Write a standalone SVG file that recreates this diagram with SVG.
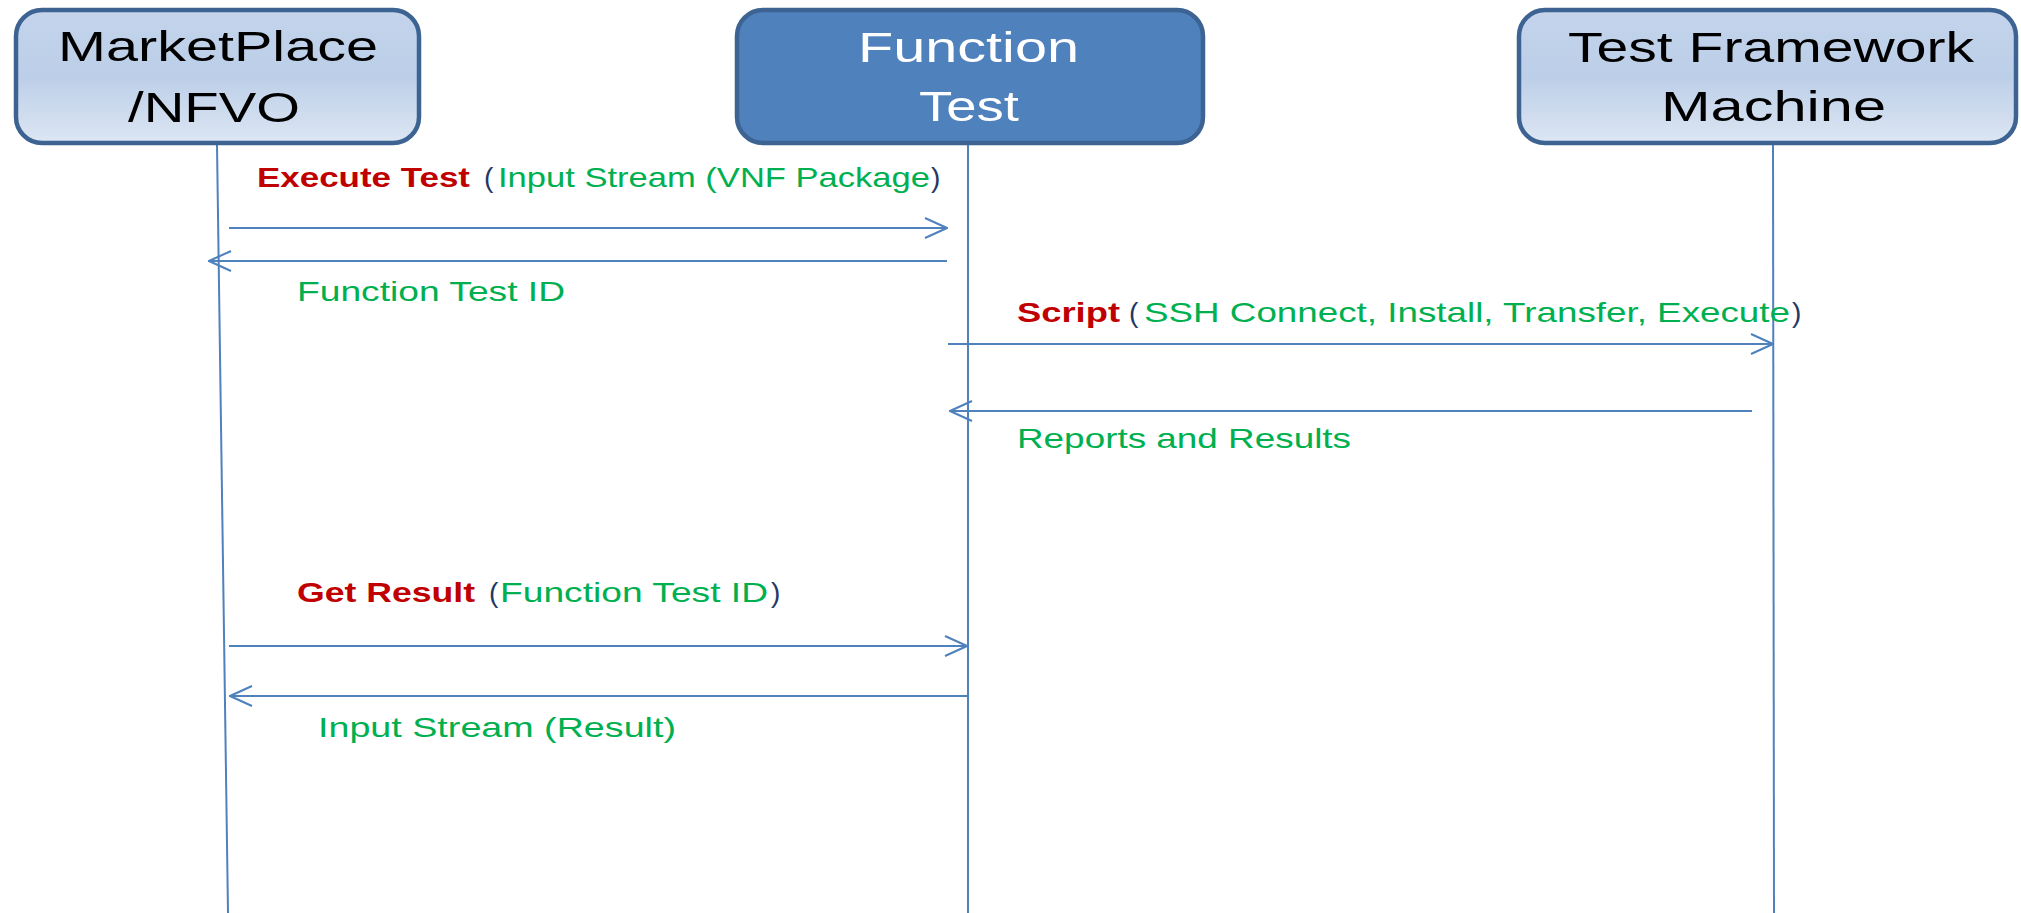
<svg xmlns="http://www.w3.org/2000/svg" width="2021" height="913" viewBox="0 0 2021 913">
<style>
.box{stroke:#3D6392;stroke-width:4.5}
.nt{font-family:"Liberation Sans",Arial,sans-serif;font-size:43px;fill:#000}
.nw{fill:#fff}
.life{stroke:#4F81BD;stroke-width:2;fill:none}
.msg{stroke:#4F81BD;stroke-width:2;fill:none;marker-end:url(#arr)}
.lb{font-family:"Liberation Sans",Arial,sans-serif;font-size:28px}
.r{fill:#C00000;font-weight:bold}
.g{fill:#00B050}
.p{fill:#1F3864}
</style>
<defs>
<linearGradient id="lg" x1="0" y1="0" x2="0" y2="1">
<stop offset="0" stop-color="#C3D4EB"/>
<stop offset="0.5" stop-color="#BCCFE8"/>
<stop offset="1" stop-color="#DDE6F3"/>
</linearGradient>
<marker id="arr" viewBox="0 0 24 22" refX="23" refY="11" markerWidth="24" markerHeight="22" markerUnits="userSpaceOnUse" orient="auto">
<path d="M1,1 L23,11 L1,21" fill="none" stroke="#4F81BD" stroke-width="2"/>
</marker>
</defs>
<g id="lifelines">
<line class="life" x1="217" y1="145" x2="228" y2="913"/>
<line class="life" x1="968" y1="145" x2="968" y2="913"/>
<line class="life" x1="1773" y1="145" x2="1774" y2="913"/>
</g>
<g id="node-marketplace">
<rect class="box" x="16" y="10" width="403" height="133" rx="26" fill="url(#lg)"/>
<text class="nt" x="58" y="61" textLength="320" lengthAdjust="spacingAndGlyphs">MarketPlace</text>
<text class="nt" x="128" y="122" textLength="172" lengthAdjust="spacingAndGlyphs">/NFVO</text>
</g>
<g id="node-functiontest">
<rect class="box" x="737" y="10" width="466" height="133" rx="26" fill="#4F81BD"/>
<text class="nt nw" x="858" y="62" textLength="221" lengthAdjust="spacingAndGlyphs">Function</text>
<text class="nt nw" x="919" y="121" textLength="100" lengthAdjust="spacingAndGlyphs">Test</text>
</g>
<g id="node-testframework">
<rect class="box" x="1519" y="10" width="497" height="133" rx="26" fill="url(#lg)"/>
<text class="nt" x="1568" y="62" textLength="406" lengthAdjust="spacingAndGlyphs">Test Framework</text>
<text class="nt" x="1661" y="121" textLength="225" lengthAdjust="spacingAndGlyphs">Machine</text>
</g>
<g id="connectors">
<line class="msg" x1="229" y1="228" x2="947" y2="228"/>
<line class="msg" x1="947" y1="261" x2="209" y2="261"/>
<line class="msg" x1="948" y1="344" x2="1773" y2="344"/>
<line class="msg" x1="1752" y1="411" x2="950" y2="411"/>
<line class="msg" x1="229" y1="646" x2="967" y2="646"/>
<line class="msg" x1="968" y1="696" x2="230" y2="696"/>
</g>
<g id="labels">
<text class="lb r" x="257" y="187" textLength="213" lengthAdjust="spacingAndGlyphs">Execute Test</text>
<text class="lb p" x="484" y="187">(</text>
<text class="lb g" x="498" y="187" textLength="432" lengthAdjust="spacingAndGlyphs">Input Stream (VNF Package</text>
<text class="lb p" x="931" y="187">)</text>
<text class="lb g" x="297" y="301" textLength="268" lengthAdjust="spacingAndGlyphs">Function Test ID</text>
<text class="lb r" x="1017" y="322" textLength="103" lengthAdjust="spacingAndGlyphs">Script</text>
<text class="lb p" x="1129" y="322">(</text>
<text class="lb g" x="1144" y="322" textLength="646" lengthAdjust="spacingAndGlyphs">SSH Connect, Install, Transfer, Execute</text>
<text class="lb p" x="1792" y="322">)</text>
<text class="lb g" x="1017" y="448" textLength="334" lengthAdjust="spacingAndGlyphs">Reports and Results</text>
<text class="lb r" x="297" y="602" textLength="178" lengthAdjust="spacingAndGlyphs">Get Result</text>
<text class="lb p" x="489" y="602">(</text>
<text class="lb g" x="500" y="602" textLength="268" lengthAdjust="spacingAndGlyphs">Function Test ID</text>
<text class="lb p" x="771" y="602">)</text>
<text class="lb g" x="318" y="737" textLength="358" lengthAdjust="spacingAndGlyphs">Input Stream (Result)</text>
</g>
</svg>
